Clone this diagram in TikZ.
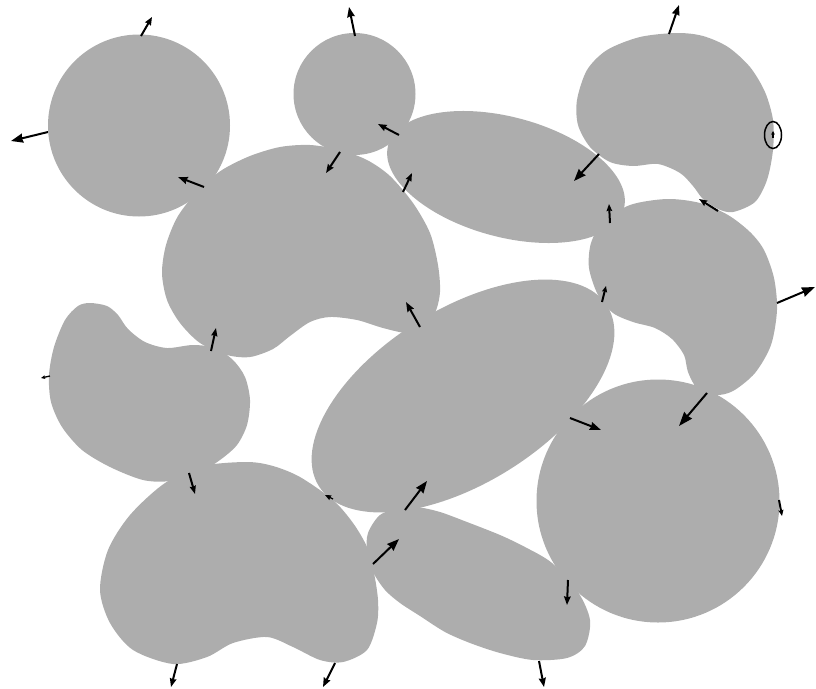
\documentclass[tikz,border=0pt]{standalone}
\usetikzlibrary{arrows.meta}
\definecolor{grain}{RGB}{173,173,173}
\tikzset{
  grainfill/.style={fill=grain},
  force/.style={line width=2pt, black},
  tinyforce/.style={line width=1.3pt, black},
}
\newcommand{\forcearr}[4]{\draw[force,-{Stealth[length=#3pt,width=#4pt,inset=0.8pt]}] #1 -- #2;}
\newcommand{\tinyarr}[4]{\draw[tinyforce,-{Stealth[length=#3pt,width=#4pt,inset=0.4pt]}] #1 -- #2;}
\begin{document}
\begin{tikzpicture}[x=1pt,y=-1pt]
\useasboundingbox (0,0) rectangle (816,688);
% grains
\fill[grainfill] (139,125.5) circle [radius=91];
\fill[grainfill] (354.5,94) circle [radius=61];
\fill[grainfill, rotate around={-15:(506,177)}] (506,177) ellipse [x radius=122, y radius=60];
\fill[grainfill] plot[smooth cycle] coordinates {(677,33) (703,36) (728,47) (750,67) (765,92) (773,120) (773,150) (767,180) (755,202) (733,212) (718,209) (703,199) (693,186) (680,173) (658,164) (633,166) (610,162) (590,147) (578,125) (577,100) (587,70) (607,50) (640,37)};
\fill[grainfill] plot[smooth cycle] coordinates {(200,188) (222,170) (250,156) (280,147) (310,145) (340,150) (367,160) (390,176) (413,203) (430,233) (438,265) (440,292) (435,313) (423,328) (407,333) (383,328) (357,320) (330,317) (310,322) (290,336) (273,349) (250,357) (227,355) (200,343) (180,323) (167,300) (162,273) (166,245) (178,216)};
\fill[grainfill] plot[smooth cycle] coordinates {(667,199) (700,203) (728,215) (750,232) (764,250) (774,278) (777,310) (771,345) (755,373) (733,391) (715,395) (697,388) (688,372) (684,355) (672,339) (655,328) (633,322) (613,313) (598,295) (589,268) (591,243) (603,222) (630,205)};
\fill[grainfill, rotate around={32:(463,396)}] (463,396) ellipse [x radius=170, y radius=87];
\fill[grainfill] plot[smooth cycle] coordinates {(90,303) (107,306) (118,315) (128,329) (145,342) (167,348) (193,345) (215,348) (233,360) (245,377) (250,400) (247,425) (237,445) (220,460) (200,472) (170,481) (143,480) (110,467) (82,450) (62,427) (51,402) (49,375) (54,347) (65,320) (78,306)};
\fill[grainfill] (658,501) circle [radius=121.5];
\fill[grainfill] plot[smooth cycle] coordinates {(247,462) (273,466) (300,477) (333,500) (353,523) (367,547) (374,573) (378,600) (377,623) (367,650) (343,662) (320,660) (293,647) (267,637) (233,643) (207,657) (173,664) (133,650) (110,623) (100,590) (108,550) (130,515) (165,483) (203,466)};
\fill[grainfill] plot[smooth cycle] coordinates {(368,533) (380,515) (400,508) (417,507) (440,512) (467,522) (500,535) (525,547) (552,563) (578,592) (590,620) (585,646) (567,658) (533,660) (500,653) (470,643) (445,632) (420,616) (400,603) (385,590) (373,572) (367,552)};
% marker
\draw[line width=1.5pt] (773,135) ellipse [x radius=8.5, y radius=13.5];
% forces
\forcearr{(141,36)}{(152,17)}{8}{6.5}
\forcearr{(48,132)}{(11,141)}{12}{9}
\forcearr{(204,187)}{(178,177)}{9.5}{7}
\forcearr{(355,36)}{(349,7)}{10}{7.5}
\forcearr{(399,135)}{(378,124)}{8.5}{6.5}
\forcearr{(340,152)}{(326,173)}{8.5}{6.5}
\forcearr{(403,192)}{(412,173)}{8}{6}
\forcearr{(669,34)}{(679,5)}{10}{7.5}
\forcearr{(599,154)}{(574,181)}{12}{9}
\forcearr{(610,223)}{(609,204)}{7}{5.5}
\forcearr{(718,211)}{(699,199)}{8}{6}
\forcearr{(211,351)}{(216,328)}{8}{6}
\tinyarr{(50,376)}{(41,378)}{4}{3.5}
\forcearr{(420,327)}{(406,302)}{9.5}{7}
\forcearr{(602,302)}{(606,286)}{6}{5}
\forcearr{(777,303)}{(815,287)}{13}{9.5}
\forcearr{(707,393)}{(679,426)}{14}{10}
\forcearr{(570,418)}{(601,430)}{11}{8}
\forcearr{(189,473)}{(195,494)}{8}{6}
\tinyarr{(333,499)}{(325,495)}{6}{5}
\forcearr{(405,510)}{(427,481)}{12}{9}
\forcearr{(373,564)}{(399,539)}{12}{9}
\forcearr{(177,664)}{(171,687)}{8.5}{6.5}
\forcearr{(335,663)}{(323,687)}{9}{7}
\forcearr{(568,580)}{(567,605)}{8.5}{6.5}
\forcearr{(779,500)}{(782,516)}{6}{5}
\forcearr{(539,661)}{(544,687)}{9}{7}
\tinyarr{(773,138)}{(773,131)}{3.5}{3.5}
\end{tikzpicture}
\end{document}
